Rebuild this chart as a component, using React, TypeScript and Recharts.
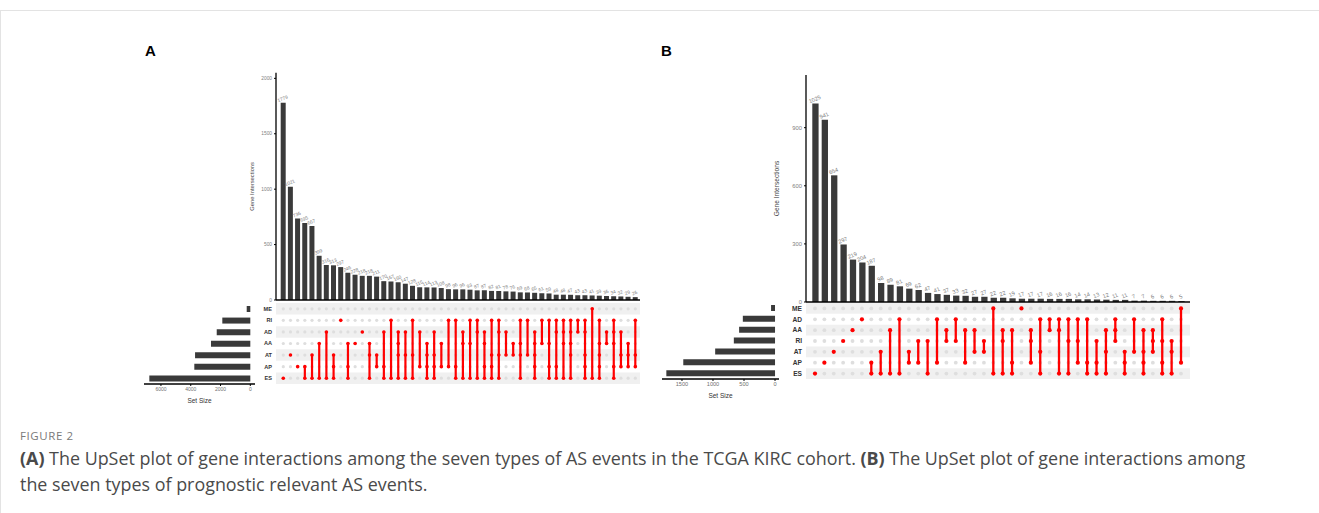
import React from 'react';
import { BarChart, Bar, XAxis, YAxis, LabelList, ScatterChart, Scatter, ReferenceArea } from 'recharts';

// ---------------- Panel A data ----------------
const setsA = ['ME', 'RI', 'AD', 'AA', 'AT', 'AP', 'ES'];
const setSizesA = [242, 1880, 2255, 2640, 3710, 3760, 6780];
const countsA = [
  1779, 1021, 736, 695, 667, 399, 316, 313, 297, 246,
  228, 218, 218, 211, 170, 167, 160, 147, 128, 115,
  114, 113, 108, 98, 96, 96, 93, 87, 87, 82,
  81, 78, 76, 69, 68, 65, 61, 59, 48, 48,
  47, 43, 43, 41, 39, 36, 34, 32, 29, 26,
];
const membersA = [
  'ES', 'AT', 'AP', 'AP|ES', 'AT|ES', 'AA|ES', 'AD|ES', 'AT|AP|ES', 'RI', 'AA|AP|ES',
  'AA', 'AD', 'AA|AT|ES', 'AT|AP', 'AD|AP|ES', 'RI|ES', 'AD|AA|AT|ES', 'AD|AT|ES', 'RI|AT|ES', 'AD|AP',
  'AA|AT|AP|ES', 'AD|AT|AP|ES', 'AA|AP', 'RI|AP', 'RI|AP|ES', 'AD|AA|ES', 'RI|AA|ES', 'RI|AD|ES', 'AD|AA|AP|ES', 'RI|AT|AP|ES',
  'RI|AD|AT|ES', 'AD|AT', 'AA|AT', 'RI|AA|AT|ES', 'RI|AT', 'AD|AA|AT|AP|ES', 'RI|AA', 'RI|AA|AP|ES', 'RI|AD|AP|ES', 'RI|AD|AA|ES',
  'RI|AD|AA|AT|ES', 'RI|AD', 'RI|AD|AT|AP|ES', 'ME|ES', 'RI|AA|AT|AP|ES', 'AD|AA', 'RI|AD|AA|AP|ES', 'AD|AT|AP', 'AA|AT|AP', 'RI|AT|AP',
];
const barTicksA = [0, 500, 1000, 1500, 2000];
const sizeTicksA = [0, 2000, 4000, 6000];

// ---------------- Panel B data ----------------
const setsB = ['ME', 'AD', 'AA', 'RI', 'AT', 'AP', 'ES'];
const setSizesB = [64, 519, 579, 664, 965, 1479, 1752];
const countsB = [
  1025, 941, 654, 297, 219, 204, 187, 98, 89, 81,
  69, 62, 47, 41, 37, 33, 32, 27, 27, 22,
  22, 19, 17, 17, 17, 16, 16, 16, 14, 14,
  13, 12, 11, 11, 7, 7, 6, 6, 6, 5,
];
const membersB = [
  'ES', 'AP', 'AT', 'RI', 'AA', 'AD', 'AP|ES', 'AT|ES', 'AA|ES', 'AD|ES',
  'AT|AP', 'RI|AP', 'RI|ES', 'AD|AP', 'AA|RI', 'AD|RI', 'AA|AP', 'AA|AT', 'RI|AT', 'ME|ES',
  'AA|RI|ES', 'AA|AP|ES', 'ME', 'AA|RI|AP', 'AD|AT|ES', 'AD|AA', 'AD|AA|ES', 'AD|RI|ES', 'AD|RI|AP', 'AD|AP|ES',
  'RI|AP|ES', 'AA|AT|ES', 'AD|AA|RI', 'AT|AP|ES', 'AD|AT', 'AA|AT|AP|ES', 'AA|RI|AT', 'AD|RI|AP|ES', 'RI|AT|ES', 'ME|AP',
];
const barTicksB = [0, 300, 600, 900];
const sizeTicksB = [0, 500, 1000, 1500];

const FONT = '"Liberation Sans", Arial, Helvetica, sans-serif';
const BAR_FILL = '#3a3a3a';
const RED = '#ff0000';

type BarsProps = {
  counts: number[]; left: number; top: number; width: number; height: number; yAxisW: number;
  marginTop: number; domainMax: number; ticks: number[]; padL: number; padR: number;
  barSize: number; labelFont: number; tickFont: number; titleFont: number; titleX: number;
};

function IntersectBars(p: BarsProps) {
  const data = p.counts.map((v, i) => ({ i: String(i), v }));
  const renderLabel = (lp: any) => {
    const cx = Number(lp.x) + Number(lp.width) / 2;
    const cy = Number(lp.y) - 2.5;
    return (
      <text x={cx} y={cy} transform={`rotate(-22 ${cx} ${cy})`} textAnchor="middle"
        fontSize={p.labelFont} fill="#7a7a7a" fontFamily={FONT}>{lp.value}</text>
    );
  };
  const renderTitle = (lp: any) => {
    const vb = lp.viewBox || {};
    const x = vb.x + p.titleX;
    const y = vb.y + vb.height / 2;
    return (
      <text x={x} y={y} transform={`rotate(-90 ${x} ${y})`} textAnchor="middle"
        fontSize={p.titleFont} fill="#444" fontFamily={FONT}>Gene Intersections</text>
    );
  };
  return (
    <div style={{ position: 'absolute', left: p.left, top: p.top }}>
      <BarChart width={p.width} height={p.height} data={data}
        margin={{ top: p.marginTop, right: 0, bottom: 0, left: 0 }}>
        <XAxis dataKey="i" type="category" tick={false} tickLine={false} height={4}
          axisLine={{ stroke: '#000', strokeWidth: 1.3 }} padding={{ left: p.padL, right: p.padR }} />
        <YAxis type="number" domain={[0, p.domainMax]} ticks={p.ticks} width={p.yAxisW} allowDataOverflow
          tick={{ fontSize: p.tickFont, fill: '#808080', fontFamily: FONT }} tickSize={2} tickMargin={2}
          tickLine={{ stroke: '#000' }} axisLine={{ stroke: '#000', strokeWidth: 1.3 }}
          label={{ content: renderTitle }} />
        <Bar dataKey="v" fill={BAR_FILL} barSize={p.barSize} isAnimationActive={false}>
          <LabelList dataKey="v" content={renderLabel} />
        </Bar>
      </BarChart>
    </div>
  );
}

type MatrixProps = {
  sets: string[]; members: string[]; left: number; top: number; width: number; height: number;
  yAxisW: number; padL: number; padR: number; dotR: number; lineW: number; labelFont: number;
};

function Matrix(p: MatrixProps) {
  const nRows = p.sets.length;
  const n = p.members.length;
  const rowY = (s: string) => nRows - 1 - p.sets.indexOf(s);
  const grey: { x: number; y: number }[] = [];
  const red: { x: number; y: number }[] = [];
  const segs: { x: number; y: number }[][] = [];
  p.members.forEach((m, i) => {
    for (let r = 0; r < nRows; r++) grey.push({ x: i, y: r });
    const ys = m.split('|').map(rowY);
    ys.forEach((y) => red.push({ x: i, y }));
    if (ys.length > 1) segs.push([{ x: i, y: Math.min(...ys) }, { x: i, y: Math.max(...ys) }]);
  });
  const pw = p.width - p.yAxisW;
  const bw = (pw - p.padL - p.padR) / n;
  const dom: [number, number] = [-0.5 - p.padL / bw, n - 0.5 + p.padR / bw];
  const rowTicks = Array.from({ length: nRows }, (_, k) => k);
  return (
    <div style={{ position: 'absolute', left: p.left, top: p.top }}>
      <ScatterChart width={p.width} height={p.height} margin={{ top: 0, right: 0, bottom: 0, left: 0 }}>
        <XAxis type="number" dataKey="x" domain={dom} allowDataOverflow hide />
        <YAxis type="number" dataKey="y" domain={[-0.5, nRows - 0.5]} allowDataOverflow ticks={rowTicks}
          width={p.yAxisW} axisLine={false} tickLine={false} tickSize={0} tickMargin={4} interval={0}
          tickFormatter={(v: number) => p.sets[nRows - 1 - v]}
          tick={{ fontSize: p.labelFont, fill: '#333', fontFamily: FONT, fontWeight: 'bold' }} />
        {p.sets.map((s, k) => (k % 2 === 0 ? (
          <ReferenceArea key={'st' + s} x1={dom[0]} x2={dom[1]} y1={rowY(s) - 0.5} y2={rowY(s) + 0.5}
            fill="#f0f0f0" fillOpacity={1} stroke="none" ifOverflow="visible" />
        ) : null))}
        <Scatter data={grey} isAnimationActive={false}
          shape={(sp: any) => <circle cx={sp.cx} cy={sp.cy} r={p.dotR} fill="#dedede" />} />
        {segs.map((seg, k) => (
          <Scatter key={'sg' + k} data={seg} isAnimationActive={false}
            line={{ stroke: RED, strokeWidth: p.lineW }} shape={() => <g />} />
        ))}
        <Scatter data={red} isAnimationActive={false}
          shape={(sp: any) => <circle cx={sp.cx} cy={sp.cy} r={p.dotR + 0.2} fill={RED} />} />
      </ScatterChart>
    </div>
  );
}

type SizesProps = {
  sets: string[]; sizes: number[]; left: number; top: number; width: number; height: number;
  domain: [number, number]; ticks: number[]; barSize: number; xAxisH: number; tickFont: number; titleFont: number;
};

function SetSizes(p: SizesProps) {
  const data = p.sets.map((s, k) => ({ s, v: p.sizes[k] }));
  const renderTitle = (lp: any) => {
    const vb = lp.viewBox || {};
    return (
      <text x={vb.x + vb.width / 2} y={vb.y + p.xAxisH - 3} textAnchor="middle"
        fontSize={p.titleFont} fill="#333" fontFamily={FONT}>Set Size</text>
    );
  };
  return (
    <div style={{ position: 'absolute', left: p.left, top: p.top }}>
      <BarChart layout="vertical" width={p.width} height={p.height} data={data}
        margin={{ top: 0, right: 0, bottom: 0, left: 0 }}>
        <YAxis type="category" dataKey="s" hide />
        <XAxis type="number" domain={p.domain} reversed allowDataOverflow ticks={p.ticks} height={p.xAxisH}
          tick={{ fontSize: p.tickFont, fill: '#707070', fontFamily: FONT }} tickSize={2} tickMargin={1}
          tickLine={{ stroke: '#000' }} axisLine={{ stroke: '#000', strokeWidth: 1.3 }}
          label={{ content: renderTitle }} />
        <Bar dataKey="v" fill={BAR_FILL} barSize={p.barSize} isAnimationActive={false} />
      </BarChart>
    </div>
  );
}

export default function App() {
  return (
    <div style={{ position: 'absolute', left: 0, top: 0, width: 1319, height: 513, background: '#fff', overflow: 'hidden' }}>
      <div style={{ position: 'absolute', left: 0, top: 10, width: 1319, height: 0, borderTop: '1px solid #e3e3e3' }} />
      <div style={{ position: 'absolute', left: 0, top: 10, width: 0, height: 503, borderLeft: '1px solid #e3e3e3' }} />

      <div style={{ position: 'absolute', left: 145, top: 42, fontFamily: FONT, fontWeight: 'bold', fontSize: 15, color: '#000' }}>A</div>
      <div style={{ position: 'absolute', left: 661, top: 42, fontFamily: FONT, fontWeight: 'bold', fontSize: 15, color: '#000' }}>B</div>

      {/* Panel A */}
      <IntersectBars counts={countsA} left={230} top={60} width={410} height={244} yAxisW={46}
        marginTop={12.7} domainMax={2051} ticks={barTicksA} padL={3.7} padR={1.1} barSize={5}
        labelFont={4.8} tickFont={4.8} titleFont={5.8} titleX={24} />
      <SetSizes sets={setsA} sizes={setSizesA} left={144} top={303} width={111} height={103}
        domain={[-315, 7138]} ticks={sizeTicksA} barSize={6} xAxisH={22} tickFont={5} titleFont={6.5} />
      <Matrix sets={setsA} members={membersA} left={230} top={303} width={410} height={81} yAxisW={46}
        padL={3.7} padR={1.1} dotR={1.6} lineW={2.2} labelFont={5.6} />

      {/* Panel B */}
      <IntersectBars counts={countsB} left={760} top={60} width={430} height={246} yAxisW={46}
        marginTop={15} domainMax={1172} ticks={barTicksB} padL={4.3} padR={4.3} barSize={6.3}
        labelFont={5.6} tickFont={5.8} titleFont={6.6} titleX={19} />
      <SetSizes sets={setsB} sizes={setSizesB} left={662} top={303} width={117} height={98}
        domain={[-64, 1822]} ticks={sizeTicksB} barSize={6} xAxisH={22} tickFont={5.6} titleFont={6.5} />
      <Matrix sets={setsB} members={membersB} left={760} top={303} width={430} height={76} yAxisW={46}
        padL={4.3} padR={4.3} dotR={1.9} lineW={2.3} labelFont={6.6} />

      {/* Caption */}
      <div style={{ position: 'absolute', left: 20, top: 428, fontFamily: '"Open Sans", sans-serif', fontSize: 11.5, color: '#7a7a7a', letterSpacing: 0.6 }}>FIGURE 2</div>
      <div style={{ position: 'absolute', left: 20, top: 445, fontFamily: '"Open Sans", sans-serif', fontSize: 17.9, color: '#4a4a4a', whiteSpace: 'nowrap', lineHeight: '26px' }}>
        <div><b>(A)</b> The UpSet plot of gene interactions among the seven types of AS events in the TCGA KIRC cohort. <b>(B)</b> The UpSet plot of gene interactions among</div>
        <div>the seven types of prognostic relevant AS events.</div>
      </div>
    </div>
  );
}
